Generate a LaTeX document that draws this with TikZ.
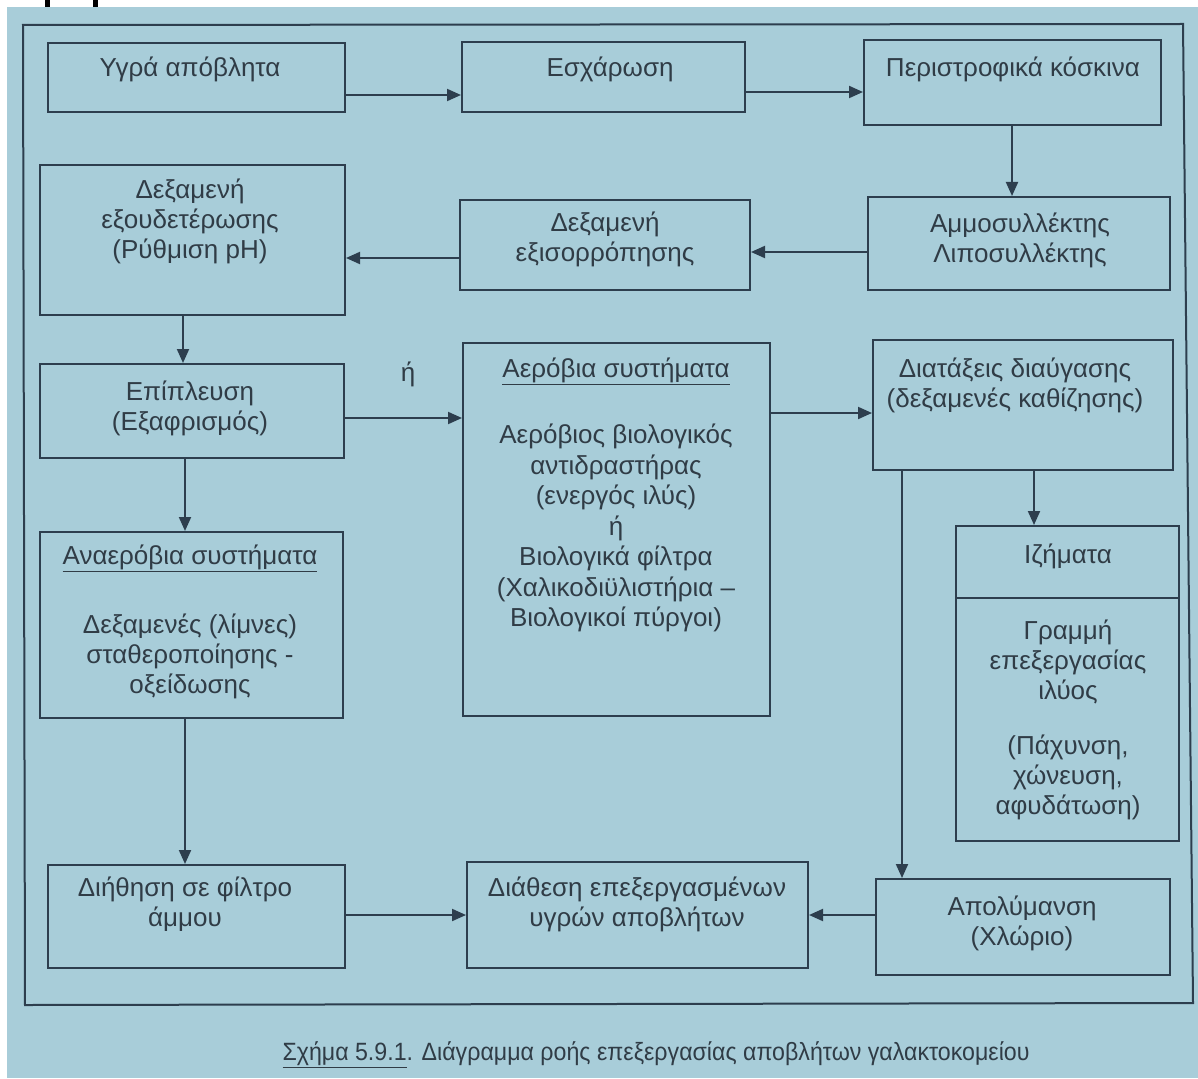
\documentclass[tikz,border=0pt]{standalone}
\usepackage{fontspec}
\setmainfont{Liberation Sans}
\usetikzlibrary{arrows.meta}
\definecolor{pagebg}{RGB}{168,205,217}
\definecolor{linec}{RGB}{45,62,78}
\definecolor{textc}{RGB}{48,60,70}
\newcommand{\mybox}[5]{\node[box,minimum width=#4-#2,minimum height=#5-#3] (#1) at ({(#2+#4)/2},{(#3+#5)/2}) {};}
\tikzset{
  box/.style={draw=linec, line width=2pt, inner sep=0pt},
  txt/.style={text=textc, align=center, inner sep=0pt, font=\fontsize{26}{30}\selectfont},
  arr/.style={draw=linec, line width=2pt, -{Triangle[length=14pt,width=12pt]}},
}
\begin{document}
\begin{tikzpicture}[x=1pt,y=-1pt]
% page
\fill[white] (0,0) rectangle (1198,1078);
\useasboundingbox (0,0) rectangle (1198,1078);
\fill[pagebg] (7,7) rectangle (1198,1078);
\fill[black] (45,0) rectangle (50,7);
\fill[black] (93,0) rectangle (98,7);
% outer frame
\draw[linec, line width=2pt] (23,25) -- (1183,24) -- (1193,1003) -- (25,1005) -- cycle;
% boxes
\mybox{b1}{48}{43}{345}{112}
\mybox{b2}{462}{42}{745}{112}
\mybox{b3}{864}{40}{1161}{125}
\mybox{b4}{868}{197}{1170}{290}
\mybox{b5}{460}{200}{750}{290}
\mybox{b6}{40}{165}{345}{315}
\mybox{b7}{40}{364}{344}{458}
\mybox{b8}{40}{532}{343}{718}
\mybox{b9}{463}{343}{770}{716}
\mybox{b10}{873}{340}{1173}{470}
\mybox{b11}{956}{526}{1179}{841}
\mybox{b12}{876}{879}{1170}{975}
\mybox{b13}{467}{862}{808}{968}
\mybox{b14}{48}{865}{345}{968}
\draw[linec, line width=2pt] (b11.west |- 0,598) -- (b11.east |- 0,598);
% texts
\node[txt] (t1) at (190,69) {Υγρά απόβλητα};
\node[txt] (t2) at (610,69) {Εσχάρωση};
\node[txt] (t3) at (1013,69) {Περιστροφικά κόσκινα};
\node[txt] (t4) at (1020,240) {Αμμοσυλλέκτης\\Λιποσυλλέκτης};
\node[txt] (t5) at (605,239) {Δεξαμενή\\εξισορρόπησης};
\node[txt] (t6) at (190,221) {Δεξαμενή\\εξουδετέρωσης\\(Ρύθμιση pH)};
\node[txt] (t7) at (190,408) {Επίπλευση\\(Εξαφρισμός)};
\node[txt] (t8a) at (190,558) {\underline{Αναερόβια συστήματα}};
\node[txt] (t8b) at (190,656) {Δεξαμενές (λίμνες)\\σταθεροποίησης -\\οξείδωσης};
\node[txt] (t9a) at (616,371) {\underline{Αερόβια συστήματα}};
\node[txt, font=\fontsize{26}{30.5}\selectfont] (t9b) at (616,528) {Αερόβιος βιολογικός\\αντιδραστήρας\\(ενεργός ιλύς)\\ή\\Βιολογικά φίλτρα\\(Χαλικοδιϋλιστήρια –\\Βιολογικοί πύργοι)};
\node[txt] (t10) at (1015,385) {Διατάξεις διαύγασης\\(δεξαμενές καθίζησης)};
\node[txt] (t11a) at (1068,556) {Ιζήματα};
\node[txt] (t11b) at (1068,662) {Γραμμή\\επεξεργασίας\\ιλύος};
\node[txt] (t11c) at (1068,777) {(Πάχυνση,\\χώνευση,\\αφυδάτωση)};
\node[txt] (t12) at (1022,923) {Απολύμανση\\(Χλώριο)};
\node[txt] (t13) at (637,904) {Διάθεση επεξεργασμένων\\υγρών αποβλήτων};
\node[txt] (t14) at (185,904) {Διήθηση σε φίλτρο\\άμμου};
\node[txt] (or) at (408,374) {ή};
\node[txt, font=\fontsize{25}{28}\selectfont] (cap) at (656,1055) {\resizebox{747pt}{\height}{\underline{Σχήμα 5.9.1}. Διάγραμμα ροής επεξεργασίας αποβλήτων γαλακτοκομείου}};
% connectors
\draw[arr] (b1.east |- 0,95) -- (b2.west |- 0,95);
\draw[arr] (b2.east |- 0,92) -- (b3.west |- 0,92);
\draw[arr] (b3.south -| 1012,0) -- (b4.north -| 1012,0);
\draw[arr] (b4.west |- 0,252) -- (b5.east |- 0,252);
\draw[arr] (b5.west |- 0,258) -- (b6.east |- 0,258);
\draw[arr] (b6.south -| 183,0) -- (b7.north -| 183,0);
\draw[arr] (b7.east |- 0,418) -- (b9.west |- 0,418);
\draw[arr] (b9.east |- 0,413) -- (b10.west |- 0,413);
\draw[arr] (b10.south -| 1034,0) -- (b11.north -| 1034,0);
\draw[arr] (b10.south -| 902,0) -- (b12.north -| 902,0);
\draw[arr] (b12.west |- 0,915) -- (b13.east |- 0,915);
\draw[arr] (b14.east |- 0,915) -- (b13.west |- 0,915);
\draw[arr] (b7.south -| 185,0) -- (b8.north -| 185,0);
\draw[arr] (b8.south -| 185,0) -- (b14.north -| 185,0);
\end{tikzpicture}
\end{document}
